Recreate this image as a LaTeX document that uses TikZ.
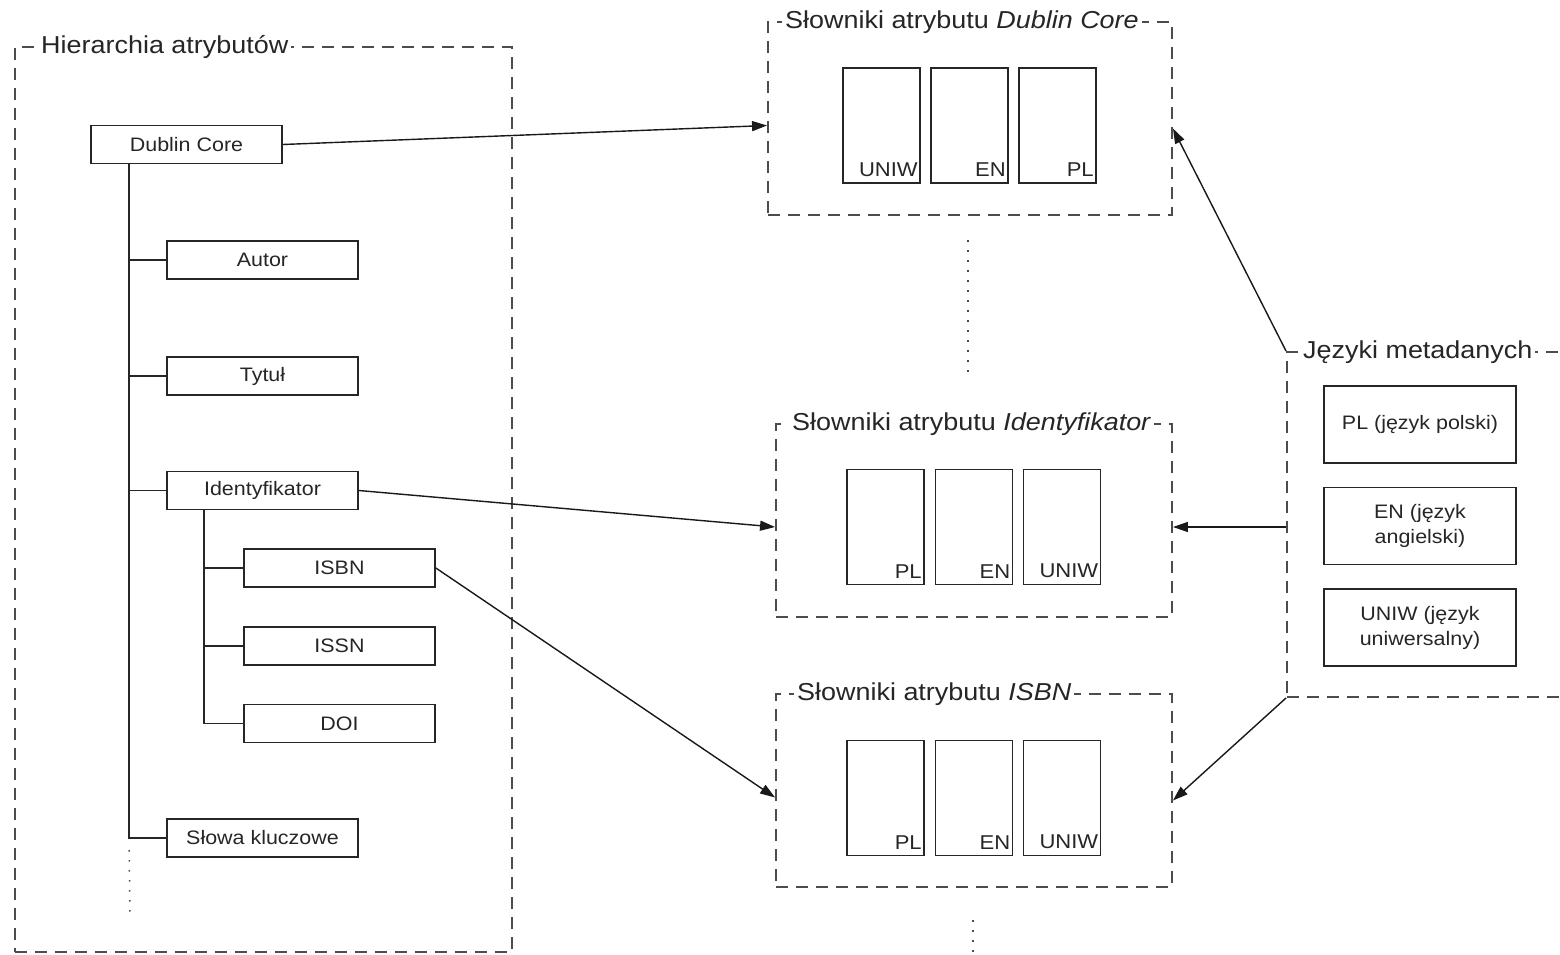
\documentclass[tikz,border=0pt]{standalone}
\usepackage{fontspec}
\setmainfont[FakeStretch=1.1]{Liberation Sans}
\usetikzlibrary{arrows.meta}
\begin{document}
\begin{tikzpicture}[x=1pt,y=-1pt,
  box/.style={draw=black!85, line width=1.7pt, minimum width=191pt, minimum height=38pt, inner sep=0pt, text=black!85, font=\fontsize{19.5}{25}\selectfont},
  langbox/.style={box, minimum width=192pt, minimum height=77pt, align=center},
  dictbox/.style={draw=black!85, line width=1.7pt, minimum width=77pt, minimum height=115pt, inner sep=0pt},
  lbl/.style={anchor=south east, inner sep=3pt, yshift=4pt, text=black!85, font=\fontsize{20}{25}\selectfont},
  frame/.style={draw=black!70, line width=1.9pt, dash pattern=on 12pt off 8pt, inner sep=0pt},
  ftitle/.style={fill=white, anchor=west, inner sep=3pt, text=black!85, font=\fontsize{24.5}{28}\selectfont},
  tree/.style={draw=black!85, line width=1.6pt},
  dots/.style={draw=black!70, line width=1.5pt, dash pattern=on 1.5pt off 8.5pt},
  arr/.style={draw=black!90, line width=1.4pt, -{Triangle[length=15pt,width=10pt]}}
]
\clip (0,0) rectangle (1560,955);
\fill[white] (0,0) rectangle (1560,955);

% frames
\node[frame, minimum width=497pt, minimum height=905pt] (hier) at (263.5,499.5) {};
\node[frame, minimum width=404pt, minimum height=193pt] (dcdict) at (970,118.5) {};
\node[frame, minimum width=396pt, minimum height=193pt] (idict) at (974,520.5) {};
\node[frame, minimum width=396pt, minimum height=193pt] (isbndict) at (974,790.5) {};
\node[frame, minimum width=293pt, minimum height=345pt] (lang) at (1433.5,524.5) {};

% frame titles
\node[ftitle] (thier) at (38,47) {Hierarchia atrybutów};
\node[ftitle] (tdc) at (782,22) {Słowniki atrybutu \textit{Dublin Core}};
\node[ftitle] (tid) at (789,424) {Słowniki atrybutu \textit{Identyfikator}};
\node[ftitle] (tisbn) at (794,694) {Słowniki atrybutu \textit{ISBN}};
\node[ftitle] (tlang) at (1300,352) {Języki metadanych};

% hierarchy boxes
\node[box] (dc) at (186.5,144.5) {Dublin Core};
\node[box] (autor) at (262.5,260) {Autor};
\node[box] (tytul) at (262.5,376) {Tytuł};
\node[box] (ident) at (262.5,490.5) {Identyfikator};
\node[box] (isbn) at (339.5,568) {ISBN};
\node[box] (issn) at (339.5,646) {ISSN};
\node[box] (doi) at (339.5,723.5) {DOI};
\node[box] (slowa) at (262.5,838) {Słowa kluczowe};

% tree lines
\coordinate (sp) at ([xshift=39pt]dc.south west);
\coordinate (spend) at (130,912);
\draw[tree] (sp) |- (autor.west);
\draw[tree] (sp) |- (tytul.west);
\draw[tree] (sp) |- (ident.west);
\draw[tree] (sp) |- (slowa.west);
\draw[dots] ([yshift=-12pt]slowa.west -| sp) -- (spend);
\coordinate (ssp) at ([xshift=38pt]ident.south west);
\draw[tree] (ssp) |- (isbn.west);
\draw[tree] (ssp) |- (issn.west);
\draw[tree] (ssp) |- (doi.west);

% dictionary boxes: Dublin Core
\node[dictbox] (dc1) at (881.5,125.5) {};
\node[dictbox] (dc2) at (969.5,125.5) {};
\node[dictbox] (dc3) at (1057.5,125.5) {};
\node[lbl] at (dc1.south east) {UNIW};
\node[lbl] at (dc2.south east) {EN};
\node[lbl] at (dc3.south east) {PL};

% Identyfikator
\node[dictbox] (id1) at (885.5,527) {};
\node[dictbox] (id2) at (974,527) {};
\node[dictbox] (id3) at (1062,527) {};
\node[lbl] at (id1.south east) {PL};
\node[lbl] at (id2.south east) {EN};
\node[lbl] at (id3.south east) {UNIW};

% ISBN
\node[dictbox] (is1) at (885.5,798) {};
\node[dictbox] (is2) at (974,798) {};
\node[dictbox] (is3) at (1062,798) {};
\node[lbl] at (is1.south east) {PL};
\node[lbl] at (is2.south east) {EN};
\node[lbl] at (is3.south east) {UNIW};

% dotted continuations
\coordinate (d1a) at (968,240);
\coordinate (d1b) at (968,378);
\draw[dots] (d1a) -- (d1b);
\coordinate (d2a) at (973,920);
\coordinate (d2b) at (973,955);
\draw[dots] (d2a) -- (d2b);

% language boxes
\node[langbox] (pl) at (1420,424.5) {PL (język polski)};
\node[langbox] (en) at (1420,526) {EN (język\\angielski)};
\node[langbox] (uniw) at (1420,627.5) {UNIW (język\\uniwersalny)};

% arrows
\draw[arr] (dc.east) -- ([yshift=-7pt]dcdict.west);
\draw[arr] (ident.east) -- ([yshift=-6.5pt]idict.west);
\draw[arr] (isbn.east) -- ([yshift=-7pt]isbndict.west);
\draw[arr] (lang.north west) -- ([yshift=-10pt]dcdict.east);
\draw[arr] ([yshift=-2.5pt]lang.west) -- ([yshift=-2.5pt]lang.west -| idict.east);
\draw[arr] (lang.south west) -- ([yshift=-10pt]isbndict.east);
\end{tikzpicture}
\end{document}
